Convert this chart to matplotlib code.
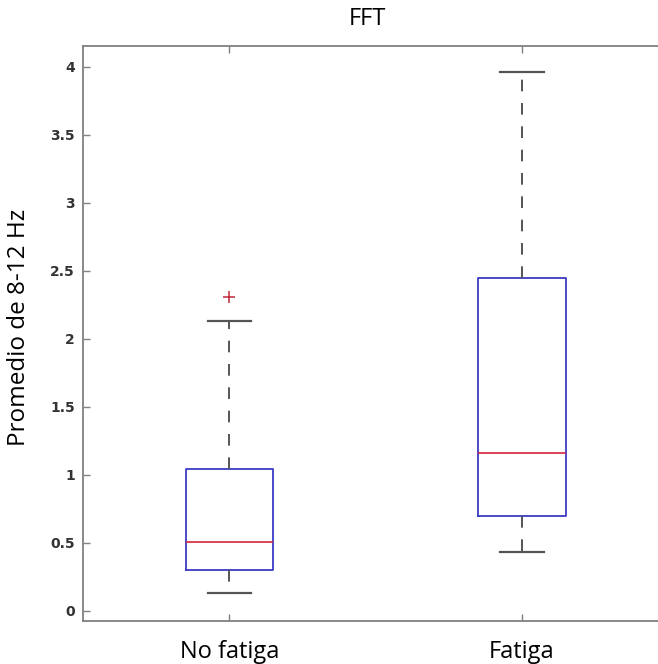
import numpy as np
import matplotlib
matplotlib.use('Agg')
import matplotlib.pyplot as plt

# valores
grupos = ['No fatiga', 'Fatiga']
q1 = [0.30, 0.70]
mediana = [0.51, 1.16]
q3 = [1.04, 2.45]
bigote_inf = [0.13, 0.43]
bigote_sup = [2.13, 3.965]
atipicos = [[2.31], []]

plt.rcParams['font.family'] = ['DejaVu Sans']

fig = plt.figure(figsize=(6.58, 6.64), dpi=100)
ax = fig.add_axes([0.1266, 0.0648, 0.8886, 0.8659])

stats = []
for i in range(len(grupos)):
    stats.append({'label': grupos[i], 'q1': q1[i], 'med': mediana[i], 'q3': q3[i],
                  'whislo': bigote_inf[i], 'whishi': bigote_sup[i], 'fliers': atipicos[i]})

gris = '#555555'
ax.bxp(stats, positions=[1, 2], widths=0.30, showfliers=True,
       boxprops=dict(color='#3b3bc4', linewidth=1.3),
       medianprops=dict(color='#d4243a', linewidth=1.2),
       whiskerprops=dict(color=gris, linewidth=1.4, linestyle=(0, (6, 6))),
       capprops=dict(color=gris, linewidth=1.6),
       capwidths=0.15,
       flierprops=dict(marker='+', markeredgecolor='#c0283a', markersize=8, markeredgewidth=1.1))

ax.set_xlim(0.5, 2.5)
ax.set_ylim(-0.074, 4.153)
ax.set_yticks([0, 0.5, 1, 1.5, 2, 2.5, 3, 3.5, 4])
ax.set_yticklabels(['0', '0.5', '1', '1.5', '2', '2.5', '3', '3.5', '4'],
                   fontsize=10, fontweight='bold', color='#333333')
ax.set_xticks([1, 2])
ax.set_xticklabels(grupos, fontsize=17, family='Open Sans', color='black')
ax.tick_params(axis='both', direction='in', length=5, width=1, color='#808080',
               top=True, right=False)
ax.tick_params(axis='y', pad=6)
ax.tick_params(axis='x', pad=14)
for s in ax.spines.values():
    s.set_color('#808080')
    s.set_linewidth(1.3)
ax.spines['right'].set_visible(False)

ax.set_ylabel('Promedio de 8-12 Hz', fontsize=17.5, family='Open Sans')
ax.yaxis.set_label_coords(-0.09, 0.51)
fig.text(0.558, 0.971, 'FFT', fontsize=17, family='Open Sans', ha='center', va='center')

fig.savefig('out.png', dpi=100)
